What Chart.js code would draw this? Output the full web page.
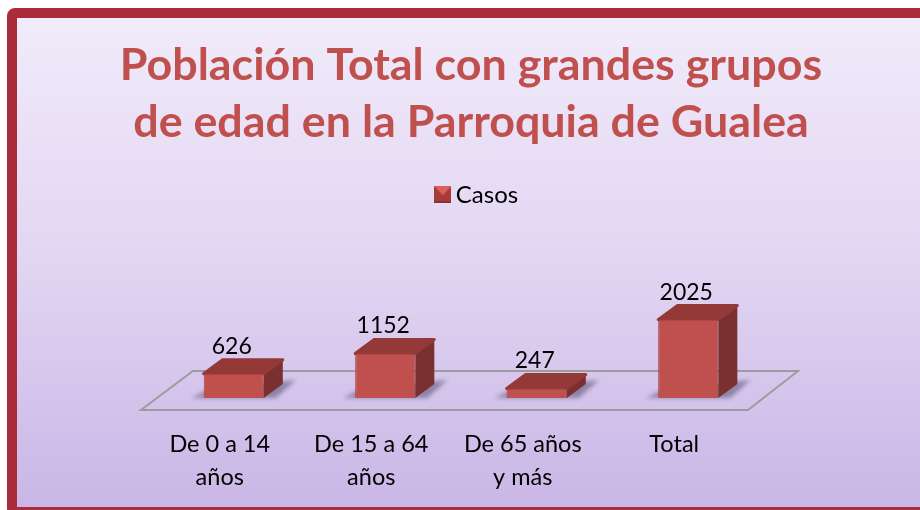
<!DOCTYPE html>
<html>
<head>
<meta charset="utf-8">
<title>Población Total</title>
<script src="https://cdn.jsdelivr.net/npm/chart.js@4/dist/chart.umd.min.js"></script>
<style>
  html, body { margin: 0; padding: 0; background: #fff; overflow: hidden; }
  #frame {
    position: absolute; left: 7px; top: 8px; width: 960px; height: 489px;
    border: 10px solid #aa2b39; border-radius: 8px;
    background: linear-gradient(180deg, #f1ebfa 0%, #e2d5f2 50%, #c9b6e6 100%);
  }
  #wrap { position: absolute; left: 0; top: 0; width: 920px; height: 510px; }
</style>
</head>
<body>
<div id="frame"></div>
<div id="wrap"><canvas id="myChart" width="920" height="510"></canvas></div>
<script>
  var categories = [['De 0 a 14', 'años'], ['De 15 a 64', 'años'], ['De 65 años', 'y más'], ['Total']];
  var casos = [626, 1152, 247, 2025];
  var titleLines = ['Población Total con grandes grupos', 'de edad en la Parroquia de Gualea'];

  var FONT = 'Lato, sans-serif';
  var depthX = 19, depthY = 14;

  // little bevelled square for the legend
  function legendIcon() {
      var c = document.createElement('canvas');
      c.width = 17; c.height = 17;
      var g = c.getContext('2d');
      g.fillStyle = '#a83a38';
      g.fillRect(0, 0, 17, 17);
      g.fillStyle = '#d9605c';
      g.beginPath(); g.moveTo(0, 0); g.lineTo(17, 0); g.lineTo(8.5, 9); g.fill();
      g.fillStyle = '#8a302e';
      g.fillRect(0, 15, 17, 2);
      return c;
  }

  var box3d = {
      id: 'box3d',
      afterLayout: function (chart) {
          // title and legend are not centred on the plot in the original,
          // the title also needs more room than the padded box or it gets squeezed
          chart.titleBlock.left -= 90;
          chart.titleBlock.right += 110;
          chart.legend.left += 19;
          chart.legend.right += 19;
      },
      beforeDatasetsDraw: function (chart) {
          var ctx = chart.ctx, xs = chart.scales.x, base = chart.scales.y.getPixelForValue(0);
          // floor
          ctx.save();
          ctx.strokeStyle = '#9c9c9c';
          ctx.lineWidth = 2;
          ctx.beginPath();
          ctx.moveTo(xs.left - 17, base + 12);
          ctx.lineTo(xs.right - 16, base + 12);
          ctx.lineTo(xs.right + 34, base - 27);
          ctx.lineTo(xs.left + 35, base - 27);
          ctx.closePath();
          ctx.stroke();
          // shadows
          chart.getDatasetMeta(0).data.forEach(function (bar) {
              var l = bar.x - bar.width / 2, r = bar.x + bar.width / 2;
              ctx.save();
              ctx.filter = 'blur(2px)';
              ctx.fillStyle = 'rgba(105,95,130,0.65)';
              ctx.beginPath();
              ctx.moveTo(l - 12, base);
              ctx.lineTo(l + 4, base - 8);
              ctx.lineTo(r + 32, base - 18);
              ctx.lineTo(r + 12, base);
              ctx.closePath();
              ctx.fill();
              ctx.restore();
          });
          // top and side faces
          chart.getDatasetMeta(0).data.forEach(function (bar) {
              var l = bar.x - bar.width / 2, r = bar.x + bar.width / 2, t = bar.y;
              ctx.lineJoin = 'round';
              ctx.lineWidth = 3;
              ctx.fillStyle = ctx.strokeStyle = '#7a3030';
              ctx.beginPath();
              ctx.moveTo(r, t);
              ctx.lineTo(r + depthX, t - depthY);
              ctx.lineTo(r + depthX, base - depthY);
              ctx.lineTo(r, base);
              ctx.closePath();
              ctx.fill();
              ctx.fillStyle = ctx.strokeStyle = '#933a38';
              ctx.beginPath();
              ctx.moveTo(l, t);
              ctx.lineTo(l + depthX, t - depthY);
              ctx.lineTo(r + depthX, t - depthY);
              ctx.lineTo(r, t);
              ctx.closePath();
              ctx.fill();
              ctx.stroke();
          });
          ctx.restore();
      },
      afterDatasetsDraw: function (chart) {
          var ctx = chart.ctx;
          ctx.save();
          ctx.fillStyle = '#000';
          ctx.font = '23px ' + FONT;
          ctx.textAlign = 'center';
          ctx.textBaseline = 'alphabetic';
          chart.getDatasetMeta(0).data.forEach(function (bar, i) {
              ctx.fillText(casos[i], bar.x - 2, bar.y - 20);
          });
          ctx.restore();
      }
  };

  new Chart(document.getElementById('myChart').getContext('2d'), {
      type: 'bar',
      data: {
          labels: categories,
          datasets: [{
              label: 'Casos',
              data: casos,
              backgroundColor: '#c0504d',
              borderColor: '#a9413f',
              borderWidth: 1,
              borderRadius: 2,
              barPercentage: 0.397,
              categoryPercentage: 1
          }]
      },
      plugins: [box3d],
      options: {
          responsive: false,
          animation: false,
          layout: { padding: { left: 158, right: 156, top: 37, bottom: 0 } },
          plugins: {
              title: {
                  display: true,
                  text: titleLines,
                  color: '#c0504d',
                  font: { family: FONT, size: 44.8, weight: 'bold', lineHeight: 1.27 },
                  padding: { top: 0, bottom: 32 }
              },
              legend: {
                  display: true,
                  position: 'top',
                  labels: {
                      usePointStyle: true,
                      pointStyle: legendIcon(),
                      pointStyleWidth: 2,
                      color: '#000',
                      font: { family: FONT, size: 24 },
                      padding: 0
                  }
              },
              tooltip: { enabled: false }
          },
          scales: {
              x: {
                  grid: { display: false, drawTicks: false },
                  border: { display: false },
                  afterFit: function (scale) { scale.height = 112; },
                  ticks: {
                      color: '#000',
                      font: { family: FONT, size: 23.5, lineHeight: 1.4 },
                      maxRotation: 0,
                      labelOffset: -14,
                      padding: 30
                  }
              },
              y: { display: false, min: 0, max: 4680 }
          }
      }
  });
</script>
</body>
</html>
